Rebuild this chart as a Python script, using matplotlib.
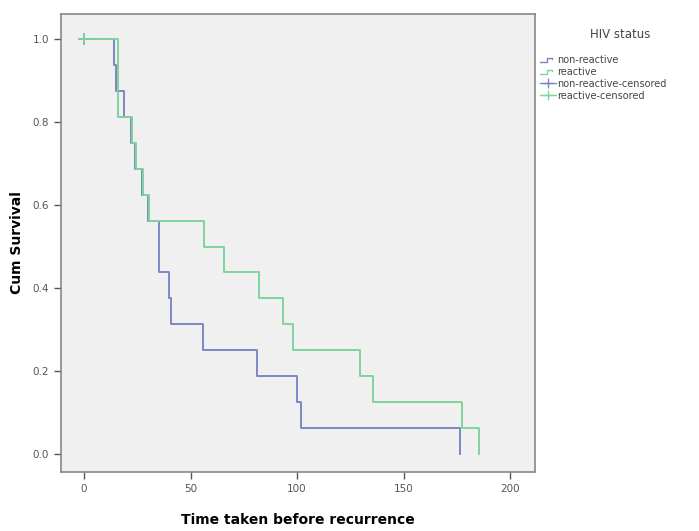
import numpy as np
from matplotlib import pyplot as plt
from matplotlib.lines import Line2D
from matplotlib.legend_handler import HandlerBase

# Kaplan-Meier step data (time, survival after step)
t_nonreact = [0, 14, 15, 19, 22, 24, 27, 30, 35, 40, 41, 56, 81, 100, 102, 176.5]
s_nonreact = [1.0, 0.9375, 0.875, 0.8125, 0.75, 0.6875, 0.625, 0.5625, 0.4375,
              0.375, 0.3125, 0.25, 0.1875, 0.125, 0.0625, 0.0]
t_react = [0, 16, 22.5, 24.5, 27.5, 30.5, 56.5, 65.5, 82, 93.5, 98, 129.5, 135.5, 177.5, 185.5]
s_react = [1.0, 0.8125, 0.75, 0.6875, 0.625, 0.5625, 0.5, 0.4375, 0.375, 0.3125,
           0.25, 0.1875, 0.125, 0.0625, 0.0]
# censored observations
cens_t = [0]
cens_s = [1.0]

labels = ['non-reactive', 'reactive', 'non-reactive-censored', 'reactive-censored']
c_blue = '#7c87c4'
c_green = '#7fd49b'


class StepHandler(HandlerBase):
    def create_artists(self, legend, orig_handle, xd, yd, w, h, fontsize, trans):
        x = np.array([0, 0.45, 0.45, 0.8, 0.8]) * w - xd
        y = np.array([0.2, 0.2, 0.8, 0.8, 0.55]) * h - yd
        ln = Line2D(x, y, color=orig_handle.get_color(), lw=1.0, transform=trans)
        return [ln]


fig = plt.figure(figsize=(6.99, 5.31), dpi=100)
ax = fig.add_axes([61/699, 1-472/531, (535-61)/699, (472-14)/531])
ax.set_facecolor('#f0f0f0')

l1, = ax.step(t_nonreact, s_nonreact, where='post', color=c_blue, lw=1.4)
l2, = ax.step(t_react, s_react, where='post', color=c_green, lw=1.4)
ax.plot(cens_t, cens_s, '+', color=c_blue, ms=8, mew=1.3)
ax.plot(cens_t, cens_s, '+', color=c_green, ms=8, mew=1.3)

ax.set_xlim(-10.8, 211.7)
ax.set_ylim(-0.043, 1.06)
ax.set_xticks([0, 50, 100, 150, 200])
ax.set_yticks([0.0, 0.2, 0.4, 0.6, 0.8, 1.0])
ax.set_yticklabels(['0.0', '0.2', '0.4', '0.6', '0.8', '1.0'])
ax.tick_params(colors='#555555', labelsize=7.5, length=5, width=1)
for sp in ax.spines.values():
    sp.set_color('#888888')
    sp.set_linewidth(1.2)

ax.set_xlabel('Time taken before recurrence', fontsize=10, fontweight='bold', labelpad=14)
ax.set_ylabel('Cum Survival', fontsize=10, fontweight='bold', labelpad=6)

h3 = Line2D([], [], color=c_blue, marker='+', ms=7, lw=1.0)
h4 = Line2D([], [], color=c_green, marker='+', ms=7, lw=1.0)
fig.text(620/699, 1-35/531, 'HIV status', ha='center', va='center',
         fontsize=8.5, color='#444444')
leg = fig.legend([l1, l2, h3, h4], labels, loc='upper left',
                 bbox_to_anchor=(540/699, 1-55/531), frameon=False,
                 fontsize=7, borderaxespad=0, borderpad=0,
                 handlelength=1.6, handletextpad=0.2, labelspacing=0.2,
                 handler_map={l1: StepHandler(), l2: StepHandler()})
for txt in leg.get_texts():
    txt.set_color('#444444')

fig.savefig('out.png', dpi=100)
